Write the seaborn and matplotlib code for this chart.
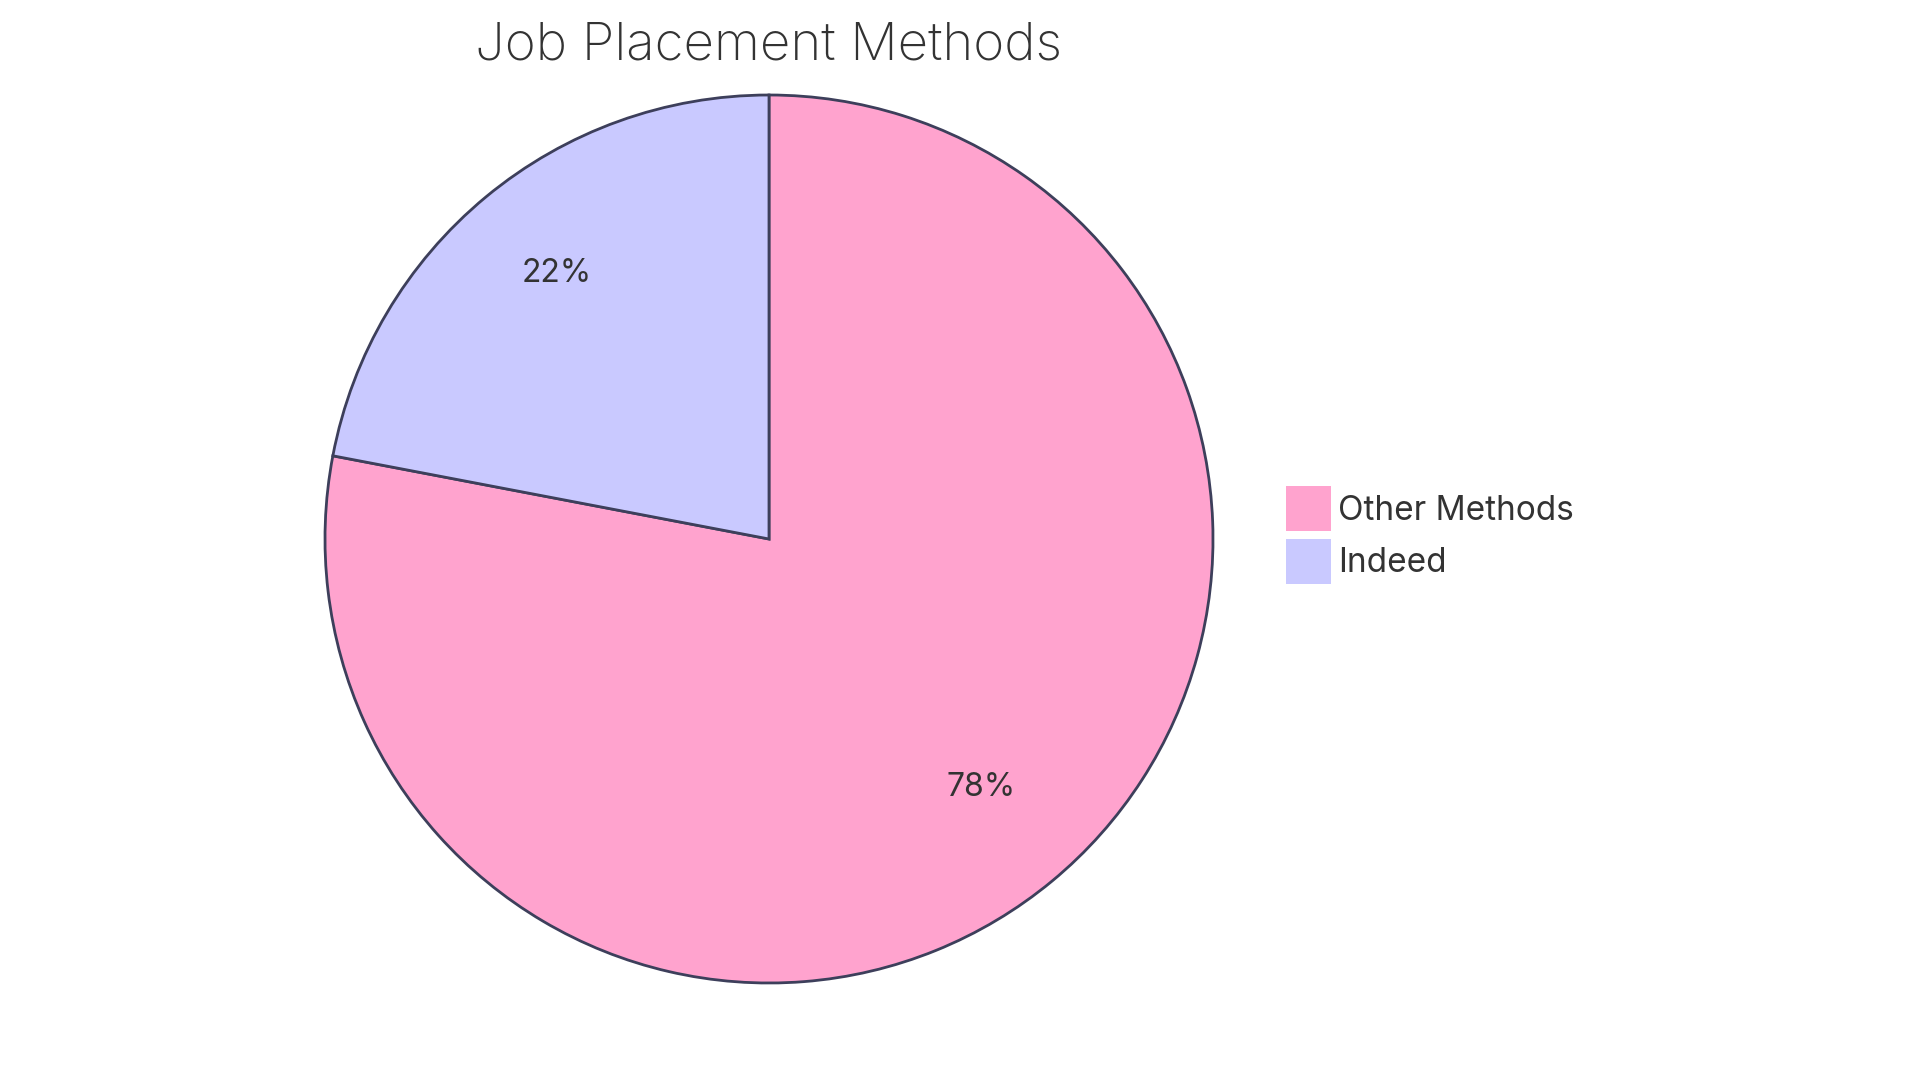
import matplotlib
matplotlib.use("Agg")
import matplotlib.pyplot as plt
import seaborn as sns

# data
labels = ["Other Methods", "Indeed"]
values = [78, 22]
colors = ["#FFA3CE", "#C9C9FF"]

sns.set_theme(style="white")
plt.rcParams['font.family'] = ['Inter', 'DejaVu Sans']

W, H = 1920, 1083
fig = plt.figure(figsize=(W / 100, H / 100), dpi=100)
fig.patch.set_facecolor("white")

# pie centre and radius in pixels
cx, cy, r = 769, 539, 444
ax = fig.add_axes([(cx - r) / W, (H - cy - r) / H, 2 * r / W, 2 * r / H])

wedges, texts, autotexts = ax.pie(
    values,
    colors=colors,
    startangle=90,
    counterclock=False,
    autopct='%1.0f%%',
    pctdistance=0.75,
    wedgeprops=dict(edgecolor="#3D3F5B", linewidth=2),
    textprops=dict(color="#333333", fontsize=23),
)
for t in autotexts:
    t.set_va("baseline")
ax.set_xlim(-1, 1)
ax.set_ylim(-1, 1)
ax.set_aspect("equal")
ax.axis("off")

fig.text(cx / W, 1 - 46.5 / H, "Job Placement Methods",
         ha="center", va="center", fontsize=38, color="#333333",
         fontweight="light")

fs = 24
fs_px = fs * 100 / 72
box = 45 / fs_px
leg = fig.legend(
    wedges, labels,
    loc="center left",
    bbox_to_anchor=(1286 / W, 1 - 535 / H),
    frameon=False,
    fontsize=fs,
    handlelength=box,
    handleheight=(box - 0.245) / 0.65,
    handletextpad=7.5 / fs_px,
    labelspacing=0.21,
    borderpad=0,
    borderaxespad=0,
)
for t in leg.get_texts():
    t.set_color("#333333")
for h in leg.legend_handles:
    h.set_edgecolor("none")

fig.savefig("out.png", dpi=100, facecolor="white")
